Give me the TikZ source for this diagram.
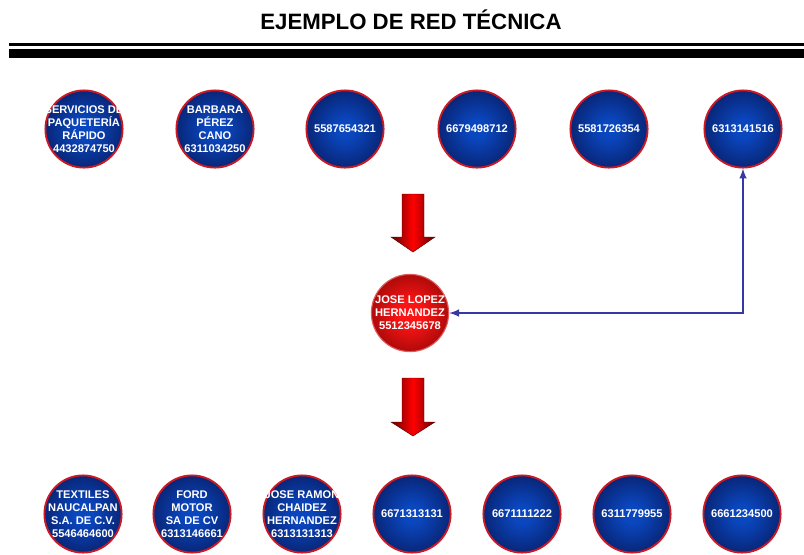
\documentclass[tikz,border=0pt]{standalone}
\usepackage{fontspec}
\setmainfont{Liberation Sans}
\usepackage{tikz}
\usetikzlibrary{calc}

\definecolor{azulcentro}{RGB}{10,70,190}
\definecolor{azulborde}{RGB}{8,20,80}
\definecolor{rojoborde}{RGB}{205,25,35}
\definecolor{rojocentro}{RGB}{250,20,20}
\definecolor{rojooscuro}{RGB}{100,0,0}
\definecolor{rojoclaro}{RGB}{225,90,90}
\definecolor{azulenlace}{RGB}{55,55,165}

\pgfdeclareradialshading{bolaazul}{\pgfpoint{0bp}{0bp}}{color(0bp)=(azulcentro); color(6bp)=(azulcentro); color(36bp)=(azulborde); color(50bp)=(azulborde)}
\pgfdeclareradialshading{bolaroja}{\pgfpoint{0bp}{0bp}}{color(0bp)=(rojocentro); color(8bp)=(rojocentro); color(42bp)=(rojooscuro); color(50bp)=(rojooscuro)}

\begin{document}
\begin{tikzpicture}[x=0.025cm,y=-0.025cm,line cap=round]
	\tikzstyle{tel}=[circle,draw=rojoborde,line width=1.3pt,shading=bolaazul,minimum size=1.93cm,inner sep=-20pt,text=white,font=\fontsize{7.9}{9.3}\selectfont\bfseries,align=center];
	\tikzstyle{centro}=[tel,shading=bolaroja,draw=rojoclaro,line width=0.8pt];
	\tikzstyle{flecha}=[draw=red!30!black,line width=0.3pt,left color=rojooscuro,right color=rojooscuro,middle color=red];
	\tikzstyle{enlace}=[draw=azulenlace,line width=1.4pt,<->,>=latex];

	\useasboundingbox (0,0) rectangle (804,554);

	\node[font=\fontsize{15.8}{18}\selectfont\bfseries] (titulo) at (411,20) {EJEMPLO DE RED TÉCNICA};
	\fill (9,43) rectangle (804,45.5);
	\fill (9,49) rectangle (804,58);

	\node[tel] (a1) at (84,129)  {SERVICIOS DE\\PAQUETERÍA\\RÁPIDO\\4432874750};
	\node[tel] (a2) at (215,129) {BARBARA\\PÉREZ\\CANO\\6311034250};
	\node[tel] (a3) at (345,129) {5587654321};
	\node[tel] (a4) at (477,129) {6679498712};
	\node[tel] (a5) at (609,129) {5581726354};
	\node[tel] (a6) at (743,129) {6313141516};

	\node[centro] (jose) at (410,313) {JOSE LOPEZ\\HERNANDEZ\\5512345678};

	\node[tel] (b1) at (83,514)  {TEXTILES\\NAUCALPAN\\S.A. DE C.V.\\5546464600};
	\node[tel] (b2) at (192,514) {FORD\\MOTOR\\SA DE CV\\6313146661};
	\node[tel] (b3) at (302,514) {JOSE RAMON\\CHAIDEZ\\HERNANDEZ\\6313131313};
	\node[tel] (b4) at (412,514) {6671313131};
	\node[tel] (b5) at (522,514) {6671111222};
	\node[tel] (b6) at (632,514) {6311779955};
	\node[tel] (b7) at (742,514) {6661234500};

	% flechas rojas
	\draw[flecha] (402,194) -- (424,194) -- (424,237) -- (435,237) -- (413,252) -- (391,237) -- (402,237) -- cycle;
	\draw[flecha] (402,378) -- (424,378) -- (424,422) -- (435,422) -- (413,436) -- (391,422) -- (402,422) -- cycle;

	\draw[enlace] (jose.east) -| (a6.south);
\end{tikzpicture}
\end{document}
